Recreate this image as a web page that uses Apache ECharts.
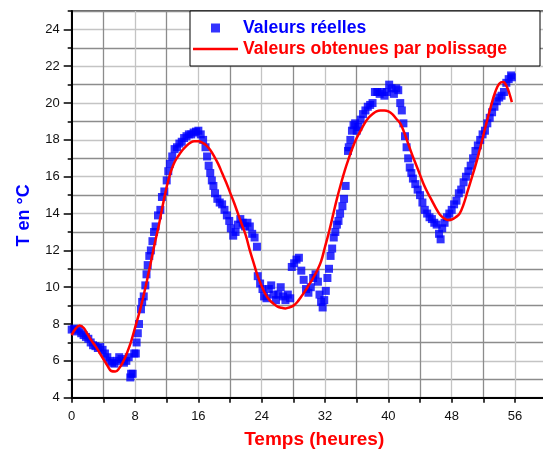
<!DOCTYPE html>
<html>
<head>
<meta charset="utf-8">
<script src="https://cdn.jsdelivr.net/npm/echarts@6.0.0/dist/echarts.min.js"></script>
<style>
  html, body { margin: 0; padding: 0; background: #fff; }
  #chart { width: 543px; height: 452px; }
</style>
</head>
<body>
<div id="chart"></div>
<script>
// mesures (heures, °C)
const heures = [
  0.0, 0.3, 0.6, 0.9, 1.2, 1.5, 1.8, 2.1, 2.4, 2.7, 3.0, 3.3, 3.6, 3.9, 4.2, 4.5, 4.8, 5.1, 5.4, 5.7,
  6.0, 6.3, 6.6, 6.9, 7.2, 7.4, 7.7, 7.9, 8.1, 8.2, 8.35, 8.5, 8.75, 8.9, 9.1, 9.3, 9.45, 9.6, 9.8, 10.0,
  10.2, 10.4, 10.6, 10.9, 11.2, 11.4, 11.7, 12.0, 12.2, 12.4, 12.7, 13.0, 13.3, 13.6, 13.9, 14.2, 14.5, 14.8, 15.1, 15.4,
  15.7, 16.0, 16.3, 16.6, 16.9, 17.1, 17.3, 17.5, 17.7, 17.9, 18.1, 18.4, 18.7, 19.0, 19.3, 19.6, 19.9, 20.1, 20.4, 20.7,
  21.0, 21.3, 21.6, 21.9, 22.2, 22.5, 22.8, 23.1, 23.4, 23.5, 23.8, 24.1, 24.3, 24.6, 24.9, 25.2, 25.5, 25.8, 26.1, 26.4,
  26.7, 27.0, 27.3, 27.6, 27.8, 28.1, 28.4, 28.7, 29.0, 29.3, 29.6, 29.9, 30.2, 30.5, 30.8, 31.1, 31.3, 31.5, 31.7, 31.9,
  32.1, 32.3, 32.5, 32.7, 32.9, 33.1, 33.3, 33.5, 33.7, 33.9, 34.2, 34.4, 34.6, 34.9, 35.0, 35.2, 35.4, 35.6, 35.8, 36.0,
  36.2, 36.5, 36.8, 37.1, 37.4, 37.7, 38.0, 38.3, 38.6, 38.9, 39.2, 39.5, 39.8, 40.1, 40.4, 40.7, 41.0, 41.25, 41.5, 41.7,
  41.9, 42.1, 42.3, 42.5, 42.7, 42.9, 43.1, 43.4, 43.7, 44.0, 44.3, 44.6, 44.9, 45.2, 45.5, 45.8, 46.1, 46.4, 46.6, 46.8,
  47.1, 47.4, 47.7, 48.0, 48.3, 48.6, 48.9, 49.2, 49.5, 49.8, 50.1, 50.4, 50.7, 51.0, 51.3, 51.6, 51.9, 52.2, 52.5, 52.8,
  53.1, 53.4, 53.7, 54.0, 54.3, 54.6, 54.9, 55.2, 55.5, 55.6, 7.5
];
const temperatures = [
  7.7, 7.75, 7.6, 7.7, 7.5, 7.4, 7.3, 7.2, 7.0, 6.85, 6.8, 6.7, 6.75, 6.6, 6.4, 6.2, 6.0, 5.9, 5.85, 6.0,
  6.2, 6.1, 5.9, 6.0, 6.2, 5.1, 5.3, 6.4, 6.4, 7.0, 7.5, 8.0, 8.8, 9.2, 9.5, 10.1, 10.7, 11.2, 11.7, 12.0,
  12.5, 13.0, 13.3, 13.9, 14.2, 14.9, 15.2, 15.8, 16.3, 16.7, 17.1, 17.5, 17.6, 17.8, 17.9, 18.1, 18.2, 18.3, 18.3, 18.4,
  18.45, 18.5, 18.3, 18.0, 17.6, 17.1, 16.6, 16.2, 15.8, 15.5, 15.1, 14.8, 14.6, 14.5, 14.2, 13.9, 13.6, 13.2, 12.8, 13.0,
  13.4, 13.7, 13.5, 13.3, 13.5, 13.3, 12.9, 12.7, 12.2, 10.6, 10.2, 9.9, 9.5, 9.4, 9.9, 10.1, 9.6, 9.3, 9.6, 10.0,
  9.5, 9.3, 9.6, 9.4, 11.1, 11.3, 11.5, 11.6, 10.9, 10.4, 9.9, 9.7, 10.0, 10.5, 10.7, 10.3, 9.6, 9.2, 8.9, 9.3,
  9.8, 10.5, 11.0, 11.7, 12.1, 12.7, 13.0, 13.4, 13.6, 14.0, 14.4, 14.8, 15.5, 17.4, 17.6, 18.0, 18.5, 18.8, 18.9, 18.5,
  18.7, 19.1, 19.4, 19.6, 19.8, 19.9, 20.0, 20.6, 20.6, 20.5, 20.6, 20.4, 20.6, 21.0, 20.8, 20.5, 20.8, 20.7, 20.0, 19.6,
  18.9, 18.2, 17.6, 17.0, 16.5, 16.2, 15.9, 15.6, 15.3, 15.0, 14.6, 14.2, 14.0, 13.8, 13.7, 13.5, 13.4, 12.9, 12.6, 13.2,
  13.5, 13.8, 14.0, 14.2, 14.5, 14.7, 15.1, 15.3, 15.7, 16.0, 16.3, 16.6, 17.0, 17.4, 17.7, 18.0, 18.3, 18.5, 18.9, 19.2,
  19.5, 19.8, 20.1, 20.3, 20.4, 20.6, 21.1, 21.3, 21.5, 21.4, 5.3
];

// courbe lissée
const lisseX = [
  0, 0.5, 1.0, 1.5, 2.0, 2.5, 3.0, 3.5, 4.0, 4.5, 5.0, 5.5, 6.0, 6.5, 7.0, 7.5, 8.0, 8.5, 9.0, 9.5,
  10.0, 10.5, 11.0, 11.5, 12.0, 12.5, 13.0, 13.5, 14.0, 14.5, 15.0, 15.5, 16.0, 16.5, 17.0, 17.5, 18.0, 18.5, 19.0, 19.5,
  20.0, 20.5, 21.0, 21.5, 22.0, 22.5, 23.0, 23.5, 24.0, 24.5, 25.0, 25.5, 26.0, 26.5, 27.0, 27.5, 28.0, 28.5, 29.0, 29.5,
  30.0, 30.5, 31.0, 31.5, 32.0, 32.5, 33.0, 33.5, 34.0, 34.5, 35.0, 35.5, 36.0, 36.5, 37.0, 37.5, 38.0, 38.5, 39.0, 39.5,
  40.0, 40.5, 41.0, 41.5, 42.0, 42.5, 43.0, 43.5, 44.0, 44.5, 45.0, 45.5, 46.0, 46.5, 47.0, 47.5, 48.0, 48.5, 49.0, 49.5,
  50.0, 50.5, 51.0, 51.5, 52.0, 52.5, 53.0, 53.5, 54.0, 54.5, 55.0, 55.3, 55.6
];
const lisseY = [
  7.4, 7.75, 7.92, 7.8, 7.45, 7.1, 6.8, 6.45, 6.1, 5.75, 5.45, 5.42, 5.6, 5.95, 6.45, 7.05, 7.8, 8.55, 9.4, 10.35,
  11.35, 12.4, 13.35, 14.45, 15.45, 16.25, 16.8, 17.15, 17.45, 17.68, 17.85, 17.92, 17.92, 17.85, 17.7, 17.45, 17.1, 16.7, 16.2, 15.7,
  15.15, 14.6, 14.0, 13.4, 12.8, 12.0, 11.3, 10.6, 10.05, 9.6, 9.3, 9.1, 8.95, 8.88, 8.85, 8.9, 9.0, 9.2, 9.5, 9.8,
  10.15, 10.5, 10.9, 11.4, 12.2, 13.0, 13.9, 14.8, 15.6, 16.35, 17.0, 17.6, 18.1, 18.5, 18.9, 19.2, 19.4, 19.55, 19.6, 19.6,
  19.55, 19.4, 19.15, 18.9, 18.4, 17.8, 17.2, 16.65, 16.1, 15.55, 15.1, 14.7, 14.3, 13.95, 13.75, 13.65, 13.68, 13.8, 14.0, 14.5,
  15.2, 15.9, 16.6, 17.4, 18.25, 19.1, 19.9, 20.6, 21.05, 21.15, 20.85, 20.5, 20.05
];

const xTicks = [0, 8, 16, 24, 32, 40, 48, 56];
const yTicks = [4, 6, 8, 10, 12, 14, 16, 18, 20, 22, 24];

const FONT = '"Liberation Sans", Arial, sans-serif';
const GRID_MAJOR = '#c4c4c4';
const GRID_MINOR = '#8c8c8c';

const chart = echarts.init(document.getElementById('chart'));
chart.setOption({
  animation: false,
  backgroundColor: '#fff',
  textStyle: { fontFamily: FONT },
  grid: {
    left: 71.7, right: -3.7, top: 11, bottom: 54.3,
    outerBoundsMode: 'none',
    containLabel: false,
    show: true, borderColor: '#333', borderWidth: 1.5
  },
  legend: {
    left: 190, top: 11,
    orient: 'vertical',
    backgroundColor: '#fff',
    borderColor: '#000',
    borderWidth: 1,
    borderRadius: 0,
    padding: [8, 33, 8, 3],
    itemWidth: 45,
    itemHeight: 9,
    itemGap: 3,
    symbolKeepAspect: true,
    textStyle: { fontFamily: FONT, fontSize: 17.6, fontWeight: 'bold', lineHeight: 18 },
    data: [
      { name: 'Valeurs réelles', icon: 'path://M0,0h8v8h-8z', textStyle: { color: '#0000ff' } },
      { name: 'Valeurs obtenues par polissage', icon: 'path://M0,0h45v2.5h-45z', textStyle: { color: '#ff0000' } }
    ]
  },
  xAxis: {
    type: 'value',
    min: 0, max: 60, interval: 4,
    name: 'Temps (heures)',
    nameLocation: 'middle',
    nameGap: 33,
    nameTextStyle: { color: '#ff0000', fontSize: 19, fontWeight: 'bold', fontFamily: FONT, padding: [0, 0, 0, 10] },
    axisLine: { lineStyle: { color: '#000', width: 2 } },
    axisTick: { length: 5, lineStyle: { color: '#000', width: 1.5 } },
    axisLabel: {
      color: '#111', fontSize: 13, margin: 12, fontFamily: FONT, showMaxLabel: false,
      formatter: (v) => (xTicks.indexOf(v) >= 0 ? String(v) : '')
    },
    splitLine: { show: true, lineStyle: { color: [GRID_MAJOR, GRID_MINOR], width: 1.3 } }
  },
  yAxis: [
    {
      type: 'value',
      min: 4, max: 25, interval: 1,
      name: 'T en °C',
      nameLocation: 'middle',
      nameGap: 39,
      nameTextStyle: { color: '#0000ff', fontSize: 18, fontWeight: 'bold', fontFamily: FONT, padding: [0, 22, 0, 0] },
      axisLine: { show: true, lineStyle: { color: '#000', width: 2 } },
      axisTick: { length: 4, lineStyle: { color: '#000', width: 1.5 } },
      axisLabel: {
        color: '#111', fontSize: 13, margin: 12, fontFamily: FONT,
        formatter: (v) => (yTicks.indexOf(v) >= 0 ? String(v) : '')
      },
      splitLine: { show: true, lineStyle: { color: [GRID_MAJOR, GRID_MINOR], width: 1.3 } }
    },
    {
      type: 'value',
      position: 'left',
      min: 4, max: 25, interval: 1,
      axisLine: { show: false },
      axisTick: { show: true, length: 8, customValues: yTicks, lineStyle: { color: '#000', width: 1.5 } },
      axisLabel: { show: false },
      splitLine: { show: false }
    }
  ],
  series: [
    {
      name: 'Valeurs réelles',
      type: 'scatter',
      symbol: 'rect',
      symbolSize: 8,
      itemStyle: { color: '#0000ff' },
      data: heures.map((h, i) => [h, temperatures[i]])
    },
    {
      name: 'Valeurs obtenues par polissage',
      type: 'line',
      smooth: 0.4,
      showSymbol: false,
      symbol: 'none',
      lineStyle: { color: '#ff0000', width: 2.5 },
      itemStyle: { color: '#ff0000' },
      data: lisseX.map((h, i) => [h, lisseY[i]])
    }
  ]
});
</script>
</body>
</html>
